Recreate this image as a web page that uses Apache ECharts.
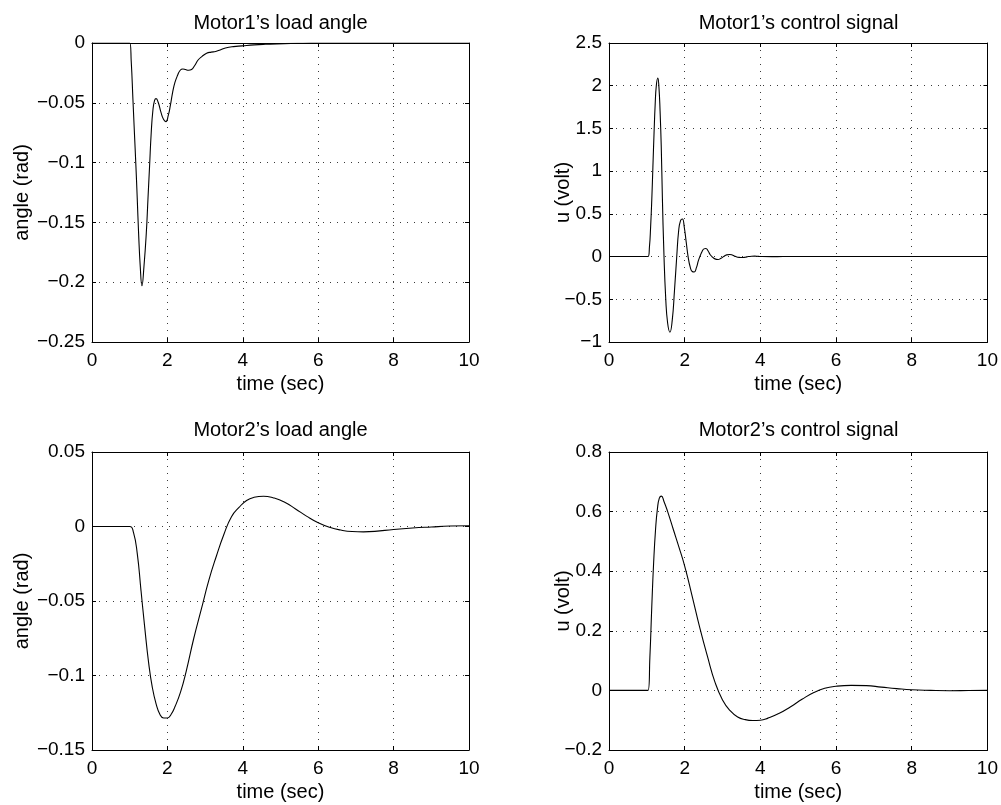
<!DOCTYPE html>
<html>
<head>
<meta charset="utf-8">
<script src="https://cdn.jsdelivr.net/npm/echarts@6/dist/echarts.min.js"></script>
<style>
  html, body { margin: 0; padding: 0; background: #ffffff; }
  #chart { width: 1001px; height: 805px; }
</style>
</head>
<body>
<div id="chart"></div>
<script>
// Motor 1: load angle (rad) against time (sec)
const m1AngleT = [0, 1.0, 1.04, 1.086, 1.125, 1.165, 1.2, 1.236, 1.28, 1.325, 1.378, 1.44, 1.485, 1.527, 1.57, 1.616, 1.66, 1.70, 1.76, 1.83, 1.90, 1.96, 2.02, 2.08, 2.14, 2.20, 2.27, 2.34, 2.41, 2.48, 2.56, 2.64, 2.72, 2.82, 2.92, 3.04, 3.16, 3.28, 3.40, 3.54, 3.75, 3.98, 4.3, 4.6, 5.1, 5.6, 6.2, 8, 10];
const m1AngleV = [0, 0, -0.015, -0.0475, -0.075, -0.103, -0.13, -0.159, -0.187, -0.203, -0.187, -0.159, -0.13, -0.103, -0.0754, -0.056, -0.048, -0.0465, -0.05, -0.058, -0.064, -0.0657, -0.061, -0.052, -0.041, -0.033, -0.027, -0.0228, -0.0218, -0.0222, -0.0228, -0.0222, -0.019, -0.014, -0.0112, -0.0086, -0.0076, -0.0071, -0.0058, -0.0042, -0.003, -0.0024, -0.0016, -0.0011, -0.0005, -0.0002, 0, 0, 0];

// Motor 1: control signal (volt)
const m1CtrlT = [0, 1.03, 1.07, 1.10, 1.13, 1.16, 1.19, 1.22, 1.25, 1.29, 1.32, 1.35, 1.38, 1.41, 1.45, 1.50, 1.55, 1.61, 1.67, 1.73, 1.79, 1.84, 1.89, 1.94, 1.99, 2.04, 2.09, 2.15, 2.20, 2.25, 2.31, 2.36, 2.41, 2.46, 2.51, 2.56, 2.62, 2.67, 2.72, 2.80, 2.88, 2.96, 3.03, 3.11, 3.19, 3.27, 3.35, 3.44, 3.52, 3.60, 3.68, 3.77, 3.85, 3.95, 4.05, 4.3, 4.6, 10];
const m1CtrlV = [0, 0, 0.12, 0.35, 0.66, 1.05, 1.44, 1.78, 2.0, 2.09, 1.98, 1.7, 1.3, 0.7, 0.05, -0.5, -0.78, -0.885, -0.75, -0.4, 0, 0.3, 0.42, 0.44, 0.34, 0.17, 0, -0.13, -0.175, -0.18, -0.13, -0.05, 0.01, 0.06, 0.09, 0.095, 0.065, 0.025, 0, -0.027, -0.034, -0.02, 0, 0.02, 0.025, 0.015, 0, -0.009, -0.011, -0.007, 0, 0.004, 0.005, 0.002, 0, -0.001, 0, 0];

// Motor 2: load angle (rad)
const m2AngleT = [0, 1.0, 1.1, 1.2, 1.3, 1.4, 1.5, 1.6, 1.7, 1.8, 1.9, 2.0, 2.1, 2.2, 2.35, 2.5, 2.7, 2.9, 3.1, 3.3, 3.5, 3.7, 3.9, 4.1, 4.3, 4.55, 4.8, 5.1, 5.4, 5.7, 6.0, 6.3, 6.6, 6.9, 7.2, 7.5, 8.0, 8.5, 9.0, 9.5, 10];
const m2AngleV = [0, 0, -0.004, -0.018, -0.043, -0.068, -0.091, -0.108, -0.119, -0.126, -0.1285, -0.1285, -0.126, -0.121, -0.111, -0.097, -0.075, -0.0555, -0.036, -0.0198, -0.0052, 0.0066, 0.0128, 0.0175, 0.0196, 0.0203, 0.0193, 0.0165, 0.0118, 0.0068, 0.0025, -0.0005, -0.0024, -0.0034, -0.0036, -0.0033, -0.002, -0.001, -0.0003, 0.0003, 0.0005];

// Motor 2: control signal (volt)
const m2CtrlT = [0, 1.03, 1.08, 1.13, 1.18, 1.23, 1.28, 1.33, 1.385, 1.45, 1.55, 1.7, 1.85, 2.0, 2.2, 2.4, 2.6, 2.8, 3.0, 3.2, 3.4, 3.6, 3.8, 4.0, 4.2, 4.5, 4.8, 5.1, 5.4, 5.7, 6.0, 6.4, 6.8, 7.2, 7.6, 8.0, 8.5, 9.0, 9.5, 10];
const m2CtrlV = [0, 0, 0.11, 0.28, 0.43, 0.54, 0.61, 0.645, 0.652, 0.635, 0.6, 0.54, 0.48, 0.417, 0.315, 0.21, 0.115, 0.028, -0.032, -0.068, -0.089, -0.098, -0.101, -0.1, -0.093, -0.077, -0.055, -0.03, -0.008, 0.007, 0.014, 0.017, 0.016, 0.011, 0.006, 0.002, 0, -0.001, -0.0005, 0];

// Panel texts
const panelTitles = ['Motor1\u2019s load angle', 'Motor1\u2019s control signal', 'Motor2\u2019s load angle', 'Motor2\u2019s control signal'];
const yNames = ['angle (rad)', 'u (volt)', 'angle (rad)', 'u (volt)'];
const xName = 'time (sec)';

// Axis scales: [min, max, interval]
const xScale = [0, 10, 2];
const yScales = [[-0.25, 0, 0.05], [-1, 2.5, 0.5], [-0.15, 0.05, 0.05], [-0.2, 0.8, 0.2]];

const seriesT = [m1AngleT, m1CtrlT, m2AngleT, m2CtrlT];
const seriesV = [m1AngleV, m1CtrlV, m2AngleV, m2CtrlV];

// Plot boxes (pixels)
const boxes = [
  { left: 92, top: 43, width: 377, height: 299 },
  { left: 609, top: 43, width: 379, height: 299 },
  { left: 92, top: 452, width: 377, height: 298 },
  { left: 609, top: 452, width: 379, height: 298 }
];
const yNameGaps = [60, 36, 60, 36];
const titleY = [23.5, 23.5, 430, 430];

const FONT = '"Liberation Sans", Arial, Helvetica, sans-serif';
const black = '#000000';

function fmt(v) {
  const s = String(+(+v).toFixed(4));
  return s.replace('-', '\u2212');
}

const grid = [], xAxis = [], yAxis = [], series = [], graphic = [];

boxes.forEach((b, i) => {
  grid.push({ left: b.left, top: b.top, width: b.width, height: b.height, show: false, containLabel: false });
  const tickStyle = { show: true, inside: true, length: 4, lineStyle: { color: black, width: 1 } };
  const gridLine = { show: true, lineStyle: { color: '#3a3a3a', width: 1, type: [1, 6] } };

  xAxis.push({
    gridIndex: i, type: 'value', position: 'bottom',
    min: xScale[0], max: xScale[1], interval: xScale[2],
    axisLine: { onZero: false, lineStyle: { color: black, width: 1 } },
    axisTick: tickStyle,
    axisLabel: { color: black, fontSize: 19, fontFamily: FONT, margin: 9, formatter: fmt },
    splitLine: gridLine,
    name: xName, nameLocation: 'middle', nameGap: 32, nameMoveOverlap: false,
    nameTextStyle: { color: black, fontSize: 20, fontFamily: FONT }
  });
  xAxis.push({
    gridIndex: i, type: 'value', position: 'top',
    min: xScale[0], max: xScale[1], interval: xScale[2],
    axisLine: { onZero: false, lineStyle: { color: black, width: 1 } },
    axisTick: tickStyle, axisLabel: { show: false }, splitLine: { show: false }
  });

  const ys = yScales[i];
  yAxis.push({
    gridIndex: i, type: 'value', position: 'left',
    min: ys[0], max: ys[1], interval: ys[2],
    axisLine: { show: true, onZero: false, lineStyle: { color: black, width: 1 } },
    axisTick: tickStyle,
    axisLabel: { color: black, fontSize: 19, fontFamily: FONT, margin: 7, formatter: fmt },
    splitLine: gridLine,
    name: yNames[i], nameLocation: 'middle', nameGap: yNameGaps[i], nameRotate: 90,
    nameMoveOverlap: false,
    nameTextStyle: { color: black, fontSize: 20, fontFamily: FONT }
  });
  yAxis.push({
    gridIndex: i, type: 'value', position: 'right',
    min: ys[0], max: ys[1], interval: ys[2],
    axisLine: { show: true, onZero: false, lineStyle: { color: black, width: 1 } },
    axisTick: tickStyle, axisLabel: { show: false }, splitLine: { show: false }
  });

  series.push({
    type: 'line', xAxisIndex: 2 * i, yAxisIndex: 2 * i,
    data: seriesT[i].map((t, k) => [t, seriesV[i][k]]),
    showSymbol: false, symbol: 'none',
    smooth: 0.5,
    lineStyle: { color: black, width: 1.1 },
    silent: true, animation: false
  });

  graphic.push({
    type: 'text',
    x: b.left + b.width / 2, y: titleY[i],
    style: {
      text: panelTitles[i], fill: black, fontSize: 20, fontFamily: FONT,
      align: 'center', verticalAlign: 'middle',
      textAlign: 'center', textVerticalAlign: 'middle'
    }
  });
});

const chart = echarts.init(document.getElementById('chart'), null, { renderer: 'canvas' });
chart.setOption({
  backgroundColor: '#ffffff',
  animation: false,
  grid, xAxis, yAxis, series, graphic
});
</script>
</body>
</html>
